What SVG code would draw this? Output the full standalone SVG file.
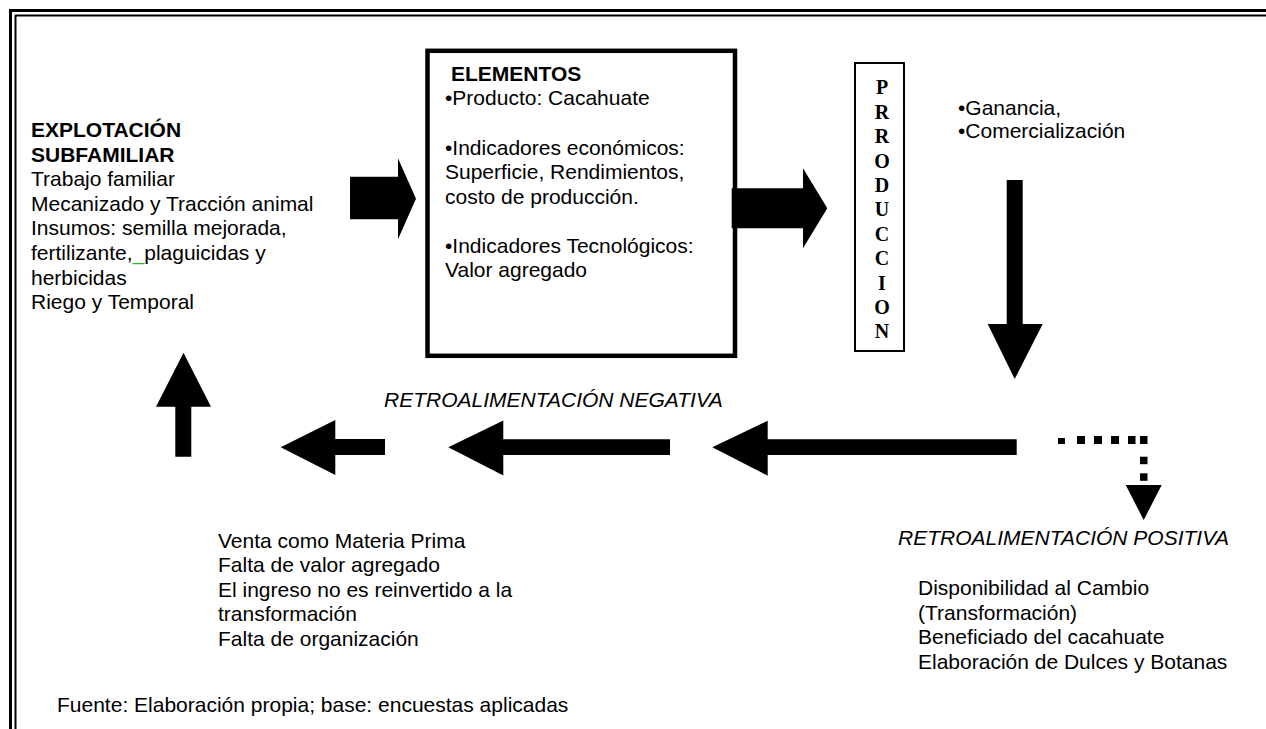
<svg xmlns="http://www.w3.org/2000/svg" width="1266" height="729" viewBox="0 0 1266 729">
<style>
  .t { font-family: "Liberation Sans", Arial, sans-serif; font-size: 21px; fill: #000; }
  .b { font-weight: bold; }
  .i { font-style: italic; }
  .pr { font-family: "Liberation Serif", "Times New Roman", serif; font-size: 20px; font-weight: bold; fill: #000; text-anchor: middle; }
  .box { fill: #fff; stroke: #000; }
  .arrow { fill: #000; stroke: none; }
</style>
<rect width="1266" height="729" fill="#fff"/>
<g id="frame" fill="none" stroke="#000">
  <path d="M10.5,729 V10.5 H1266" stroke-width="3"/>
  <path d="M15.5,729 V15.5 H1266" stroke-width="2"/>
</g>

<g id="node-explotacion">
  <text class="t b" x="31" y="137">EXPLOTACIÓN</text>
  <text class="t b" x="31" y="161.6">SUBFAMILIAR</text>
  <text class="t" x="31" y="186.2">Trabajo familiar</text>
  <text class="t" x="31" y="210.8">Mecanizado y Tracción animal</text>
  <text class="t" x="31" y="235.4">Insumos: semilla mejorada,</text>
  <text class="t" x="31" y="260">fertilizante,<tspan fill="#2fb52f">_</tspan>plaguicidas y</text>
  <text class="t" x="31" y="284.6">herbicidas</text>
  <text class="t" x="31" y="309.2">Riego y Temporal</text>
</g>

<g id="node-elementos">
  <rect class="box" x="427.5" y="50.8" width="307.5" height="305" stroke-width="4.5"/>
  <text class="t b" x="451" y="80.5">ELEMENTOS</text>
  <text class="t" x="445" y="105">•Producto: Cacahuate</text>
  <text class="t" x="445" y="154.5">•Indicadores económicos:</text>
  <text class="t" x="445" y="179">Superficie, Rendimientos,</text>
  <text class="t" x="445" y="203.5">costo de producción.</text>
  <text class="t" x="445" y="252.5">•Indicadores Tecnológicos:</text>
  <text class="t" x="445" y="277">Valor agregado</text>
</g>

<g id="node-produccion">
  <rect class="box" x="855" y="63" width="49" height="288" stroke-width="2"/>
  <text class="pr" x="882" y="94.3">P</text>
  <text class="pr" x="882" y="118.7">R</text>
  <text class="pr" x="882" y="143.1">R</text>
  <text class="pr" x="882" y="167.5">O</text>
  <text class="pr" x="882" y="191.9">D</text>
  <text class="pr" x="882" y="216.3">U</text>
  <text class="pr" x="882" y="240.7">C</text>
  <text class="pr" x="882" y="265.1">C</text>
  <text class="pr" x="882" y="289.5">I</text>
  <text class="pr" x="882" y="313.9">O</text>
  <text class="pr" x="882" y="338.3">N</text>
</g>

<g id="node-ganancia">
  <text class="t" x="958" y="115">•Ganancia,</text>
  <text class="t" x="958" y="138">•Comercialización</text>
</g>

<g id="label-negativa">
  <text class="t i" x="384" y="406.7">RETROALIMENTACIÓN NEGATIVA</text>
</g>

<g id="node-negativa">
  <text class="t" x="218" y="547.5">Venta como Materia Prima</text>
  <text class="t" x="218" y="572">Falta de valor agregado</text>
  <text class="t" x="218" y="596.5">El ingreso no es reinvertido a la</text>
  <text class="t" x="218" y="621">transformación</text>
  <text class="t" x="218" y="645.5">Falta de organización</text>
</g>

<g id="label-positiva">
  <text class="t i" x="898" y="545">RETROALIMENTACIÓN POSITIVA</text>
</g>

<g id="node-positiva">
  <text class="t" x="918" y="595">Disponibilidad al Cambio</text>
  <text class="t" x="918" y="619.5">(Transformación)</text>
  <text class="t" x="918" y="644">Beneficiado del cacahuate</text>
  <text class="t" x="918" y="668.5">Elaboración de Dulces y Botanas</text>
</g>

<g id="fuente">
  <text class="t" x="57" y="712">Fuente: Elaboración propia; base: encuestas aplicadas</text>
</g>

<g id="connectors">
  <path class="arrow" d="M350,176.7 H398 V158.3 L416,198.7 L398,239.3 V219.3 H350 Z"/>
  <path class="arrow" d="M731.7,188.3 H803 V168.3 L827.3,208.3 L803,248.3 V228.3 H731.7 Z"/>
  <path class="arrow" d="M1006.7,180 H1022.7 V324 H1042.7 L1014.7,379 L987.7,324 H1006.7 Z"/>
  <path class="arrow" d="M1016.7,439.3 H767.7 V420.7 L712.3,447.3 L767.7,475.7 V455 H1016.7 Z"/>
  <path class="arrow" d="M670,439.3 H503.3 V420.5 L448.3,447.3 L503.3,475.5 V455 H670 Z"/>
  <path class="arrow" d="M385,439 H335.3 V420 L280.7,447.3 L335.3,475 V455 H385 Z"/>
  <path class="arrow" d="M175.3,456.7 V406.7 H156 L183.5,352.7 L211,406.7 H191.3 V456.7 Z"/>
  <g id="dotted-positiva" class="arrow">
    <rect x="1058" y="438" width="7" height="6"/>
    <rect x="1077" y="436" width="8" height="8"/>
    <rect x="1094" y="436" width="8" height="8"/>
    <rect x="1111" y="436" width="8" height="8"/>
    <rect x="1128" y="436" width="7.5" height="8"/>
    <path d="M1140,436 H1147.5 V444 H1140 Z"/>
    <rect x="1140" y="456.7" width="7.5" height="7.5"/>
    <rect x="1140" y="473.3" width="7.5" height="7.5"/>
    <path d="M1125.7,485 H1161.7 L1143.7,520 Z"/>
  </g>
</g>
</svg>
